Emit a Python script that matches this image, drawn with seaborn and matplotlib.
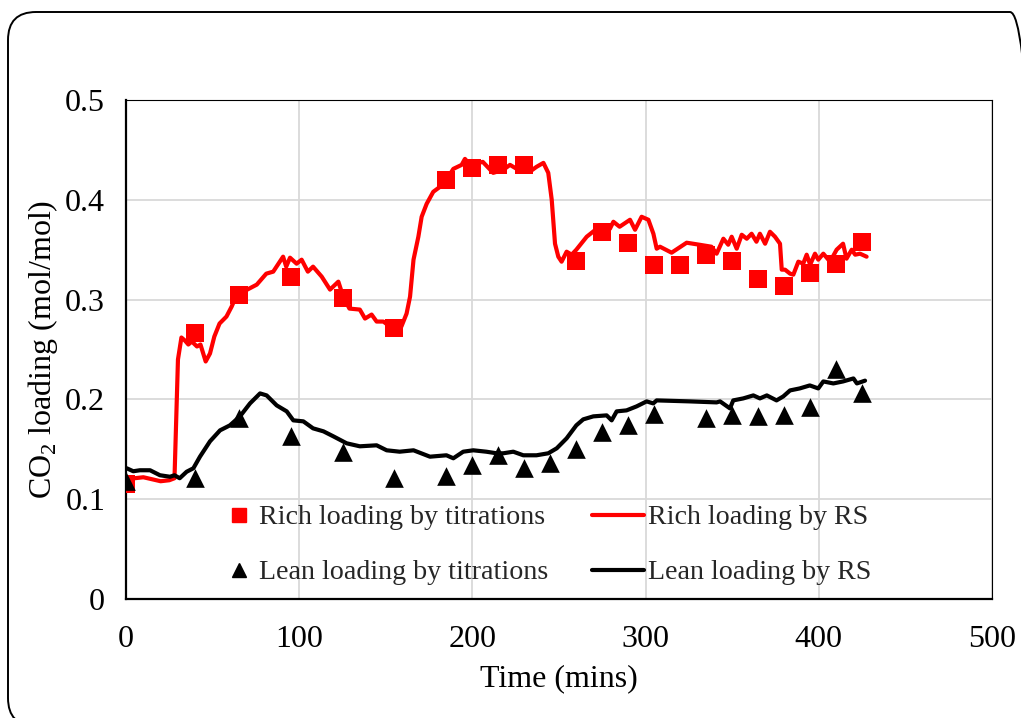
import matplotlib
matplotlib.use("Agg")

import matplotlib.pyplot as plt
import seaborn as sns
from matplotlib.patches import FancyBboxPatch
from matplotlib.transforms import IdentityTransform
from matplotlib.lines import Line2D

# ======================
# DATA
# ======================
# titration samples
titr_time = [0, 40, 65, 95, 125, 155, 185, 200, 215, 230, 260, 275, 290, 305,
             320, 335, 350, 365, 380, 395, 410, 425]
rich_titr = [0.115, 0.267, 0.305, 0.323, 0.302, 0.272, 0.420, 0.432, 0.435, 0.435,
             0.339, 0.368, 0.357, 0.335, 0.335, 0.345, 0.339, 0.321, 0.314, 0.327,
             0.336, 0.358]

lean_time = [0, 40, 65, 95, 125, 155, 185, 200, 215, 230, 245, 260, 275, 290,
             305, 335, 350, 365, 380, 395, 410, 425]
lean_titr = [0.118, 0.121, 0.181, 0.163, 0.147, 0.121, 0.123, 0.134, 0.144, 0.131,
             0.136, 0.150, 0.167, 0.174, 0.185, 0.181, 0.184, 0.183, 0.184, 0.192,
             0.230, 0.206]

# RS (online) readings
rich_rs_time = [0, 5, 10, 15, 20, 25, 28, 30, 32, 34, 36, 38, 41, 43, 46, 48.5, 51,
                54, 58, 61, 63, 70, 75.5, 81, 85, 90.7, 92.5, 94.7, 98.5, 101.4, 105,
                108, 113, 117.8, 122.6, 125.4, 129, 135, 138, 141.8, 144.7, 148.6,
                152.4, 159, 162, 164, 166, 168.8, 170.7, 173.6, 177.4, 181.3, 185,
                189, 193.8, 195.7, 198.6, 206, 212, 217.8, 221.7, 225.6, 233, 237,
                241, 243.8, 245.8, 247.7, 249.6, 251.5, 254.4, 257.3, 260, 266,
                271.8, 279.4, 281.4, 285, 291, 293.9, 297.7, 301.6, 304.5, 306.4,
                308.3, 315, 323.7, 331, 338, 341, 344.9, 347.7, 349.7, 352.6, 355.5,
                358.4, 361.2, 364, 366, 369, 371.8, 374.7, 377.6, 378.6, 380.5,
                383.4, 385.3, 388.2, 391, 393, 395, 397.8, 399.7, 402.6, 406.5,
                410.3, 414, 416, 419, 421, 423.8, 427.6]
rich_rs = [0.122, 0.121, 0.122, 0.120, 0.118, 0.119, 0.121, 0.240, 0.262, 0.259,
           0.255, 0.258, 0.253, 0.255, 0.238, 0.246, 0.263, 0.276, 0.283, 0.293,
           0.301, 0.310, 0.315, 0.326, 0.328, 0.343, 0.333, 0.342, 0.336, 0.340,
           0.328, 0.333, 0.323, 0.310, 0.318, 0.303, 0.291, 0.290, 0.281, 0.285,
           0.278, 0.278, 0.273, 0.273, 0.286, 0.303, 0.340, 0.363, 0.383, 0.396,
           0.408, 0.413, 0.420, 0.431, 0.435, 0.441, 0.435, 0.438, 0.427, 0.430,
           0.435, 0.431, 0.428, 0.433, 0.437, 0.427, 0.400, 0.356, 0.343, 0.338,
           0.348, 0.345, 0.350, 0.363, 0.371, 0.371, 0.378, 0.373, 0.380, 0.370,
           0.383, 0.380, 0.366, 0.351, 0.353, 0.347, 0.357, 0.355, 0.353, 0.346,
           0.361, 0.355, 0.363, 0.351, 0.365, 0.361, 0.366, 0.358, 0.366, 0.356,
           0.368, 0.363, 0.356, 0.330, 0.330, 0.326, 0.325, 0.338, 0.336, 0.345,
           0.335, 0.346, 0.340, 0.346, 0.338, 0.350, 0.356, 0.341, 0.350, 0.345,
           0.346, 0.343]

lean_rs_time = [0.4, 4.2, 8, 13.9, 19.6, 25.4, 28, 31, 35, 38.9, 42.7, 48.5, 54.3,
                60, 65.8, 71.6, 77.4, 81.2, 87, 92.8, 96.6, 102.4, 108, 114, 119.7,
                127.4, 135, 144.7, 150.5, 158, 166, 175.5, 185, 189, 194.7, 200.5,
                208, 214, 217.8, 223.6, 229.4, 237, 243.8, 248.7, 254.4, 260, 264,
                269.8, 277.5, 280.4, 283.3, 289, 294.8, 300.6, 304.4, 306.4, 325.6,
                341, 343, 348.7, 350.6, 356.4, 362.2, 366, 370, 375.6, 379.5, 383.4,
                389, 394.8, 399.7, 402.6, 408.4, 414, 420, 422, 426.7]
lean_rs = [0.131, 0.128, 0.129, 0.129, 0.124, 0.1225, 0.124, 0.121, 0.1275, 0.131,
           0.1426, 0.158, 0.169, 0.174, 0.183, 0.196, 0.206, 0.204, 0.194, 0.188,
           0.179, 0.178, 0.171, 0.168, 0.163, 0.156, 0.153, 0.154, 0.149, 0.1476,
           0.149, 0.1426, 0.144, 0.141, 0.1476, 0.149, 0.1476, 0.146, 0.146,
           0.1476, 0.144, 0.144, 0.146, 0.151, 0.161, 0.174, 0.180, 0.183, 0.184,
           0.179, 0.188, 0.189, 0.193, 0.198, 0.196, 0.199, 0.198, 0.197, 0.198,
           0.191, 0.199, 0.201, 0.204, 0.201, 0.204, 0.199, 0.203, 0.209, 0.211,
           0.214, 0.211, 0.218, 0.216, 0.218, 0.221, 0.216, 0.2188]

RED = "#ff0000"

# ======================
# STYLE
# ======================
sns.set_theme(style="white")
plt.rcParams["font.family"] = ["Liberation Serif", "DejaVu Serif"]
plt.rcParams["mathtext.fontset"] = "custom"
plt.rcParams["mathtext.rm"] = "Liberation Serif"

fig = plt.figure(figsize=(10.21, 7.18), dpi=100)
ax = fig.add_axes([126 / 1021, 1 - 599 / 718, 866 / 1021, 499 / 718])

LW = 3.0
sns.lineplot(x=rich_rs_time, y=rich_rs, ax=ax, color=RED, linewidth=LW,
             sort=False, estimator=None, zorder=3)
sns.lineplot(x=lean_rs_time, y=lean_rs, ax=ax, color="black", linewidth=LW,
             sort=False, estimator=None, zorder=3)
sns.scatterplot(x=titr_time, y=rich_titr, ax=ax, color=RED, marker="s", s=160,
                linewidth=0, zorder=4)
sns.scatterplot(x=lean_time, y=lean_titr, ax=ax, color="black", marker="^", s=180,
                linewidth=0, zorder=4)

ax.set_xlim(0, 500)
ax.set_ylim(0, 0.5)
ax.set_xticks([0, 100, 200, 300, 400, 500])
ax.set_yticks([0, 0.1, 0.2, 0.3, 0.4, 0.5])
ax.set_yticklabels(["0", "0.1", "0.2", "0.3", "0.4", "0.5"])
ax.grid(True, color="#d9d9d9", linewidth=1.3)
ax.set_axisbelow(True)
ax.tick_params(axis="both", length=0, labelsize=23, colors="black")
ax.tick_params(axis="y", pad=15)
ax.tick_params(axis="x", pad=19)

for side in ["left", "bottom"]:
    ax.spines[side].set_color("black")
    ax.spines[side].set_linewidth(1.6)
for side in ["top", "right"]:
    ax.spines[side].set_color("black")
    ax.spines[side].set_linewidth(0.8)

ax.set_xlabel("Time (mins)", fontsize=23, color="black", labelpad=7)
ax.set_ylabel(r"CO$_\mathregular{2}$ loading (mol/mol)", fontsize=23,
              color="black", labelpad=4)

# legend split in two columns like the original
mk_handles = [
    Line2D([], [], linestyle="none", marker="s", color=RED, markersize=9.5),
    Line2D([], [], linestyle="none", marker="^", color="black", markersize=9.5),
]
leg1 = ax.legend(mk_handles, ["Rich loading by titrations", "Lean loading by titrations"],
                 loc="center left", bbox_to_anchor=(0.118, 0.108), frameon=False,
                 fontsize=20.2, handlelength=0.8, handletextpad=0.3,
                 labelspacing=1.05, borderaxespad=0, borderpad=0)
ax.add_artist(leg1)
ln_handles = [
    Line2D([], [], color=RED, linewidth=LW),
    Line2D([], [], color="black", linewidth=LW),
]
ax.legend(ln_handles, ["Rich loading by RS", "Lean loading by RS"],
          loc="center left", bbox_to_anchor=(0.538, 0.108), frameon=False,
          fontsize=20.2, handlelength=1.85, handletextpad=0.15,
          labelspacing=1.05, borderaxespad=0, borderpad=0)

# rounded chart border
border = FancyBboxPatch((8, -8), 1030, 718 - 12 + 8,
                        boxstyle="round,pad=0,rounding_size=28",
                        transform=IdentityTransform(), fill=False,
                        edgecolor="black", linewidth=1.4)
fig.patches.append(border)

fig.savefig("out.png", dpi=100)
